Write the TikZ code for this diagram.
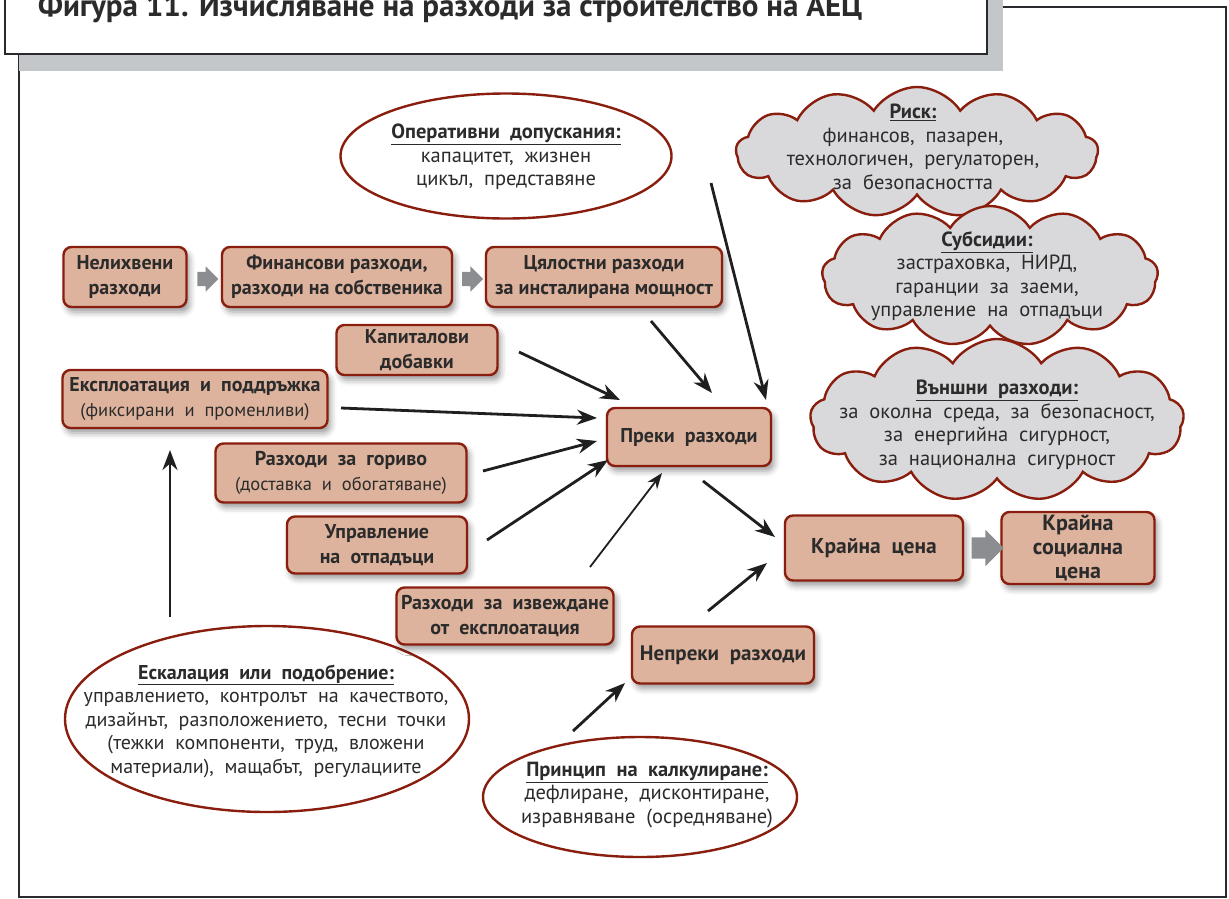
\documentclass[tikz,border=0pt]{standalone}
\usepackage{fontspec}
\setmainfont{PT Sans}
\usetikzlibrary{shapes.geometric,shapes.symbols,shapes.arrows,arrows.meta,shadows.blur,calc}
\definecolor{boxfill}{HTML}{DEB39D}
\definecolor{boxline}{HTML}{8A1E0E}
\definecolor{cloudfill}{HTML}{D9D9DB}
\definecolor{garrow}{HTML}{8C8D90}
\definecolor{txt}{HTML}{2B2B2B}
\definecolor{shadowgray}{HTML}{C3C7CA}
\definecolor{frameline}{HTML}{2A2A2E}
\newcommand{\sub}[1]{{\fontsize{18.5}{25}\selectfont\mdseries #1}}
\tikzset{
  box/.style={draw=boxline, line width=2.4pt, fill=boxfill, rounded corners=8pt, align=center,
    font=\fontsize{20}{25}\selectfont\bfseries, text=txt, inner sep=0pt,
    blur shadow={shadow xshift=3pt, shadow yshift=-5pt, shadow blur radius=6pt}},
  ell/.style={draw=boxline, line width=2.4pt, fill=white, ellipse, inner sep=0pt},
  cl/.style={draw=boxline, line width=2.4pt, fill=cloudfill, cloud, cloud puffs=13, cloud puff arc=115,
    cloud ignores aspect, inner sep=0pt},
  body/.style={align=center, font=\fontsize{20.5}{23.5}\selectfont, text=txt, inner sep=0pt},
  arr/.style={line width=2.8pt, draw=black!88, -{Stealth[length=20pt,width=15pt]}},
  thinarr/.style={line width=1.8pt, draw=black!88, -{Stealth[length=16pt,width=12pt]}},
  blk/.style={single arrow, fill=garrow, draw=none, inner xsep=0pt, single arrow head indent=0pt}
}
\begin{document}
\begin{tikzpicture}[x=1pt,y=-1pt]
\useasboundingbox (0,0) rectangle (1229,898);
\clip (0,0) rectangle (1229,898);
% frame and title
\draw[frameline, line width=2.5pt] (19,7) rectangle (1226,897);
\fill[shadowgray] (19,0) rectangle (1003,71);
\draw[frameline, line width=2pt, fill=white] (5,-10) rectangle (987,54);
\node[anchor=base west, font=\fontsize{31}{31}\selectfont\bfseries, text=txt, inner sep=0pt] (title) at (38,16)
  {Фигура 11. Изчисляване на разходи за строителство на АЕЦ};

% clouds
\node[cl, minimum width=362, minimum height=130] (riskc) at (917,152) {};
\node[body] (risk) at (913,147) {\textbf{\underline{Риск:}}\\финансов, \ пазарен,\\технологичен, \ регулаторен,\\за \ безопасността};
\node[cl, minimum width=336, minimum height=140] (subc) at (990,276) {};
\node[body] (sub) at (987,276) {\textbf{\underline{Субсидии:}}\\застраховка, \ НИРД,\\гаранции \ за \ заеми,\\управление \ на \ отпадъци};
\node[cl, minimum width=374, minimum height=162] (vanc) at (997,420) {};
\node[body] (van) at (997,425) {\textbf{\underline{Външни \ разходи:}}\\за \ околна \ среда, \ за \ безопасност,\\за \ енергийна \ сигурност,\\за \ национална \ сигурност};

% ellipses
\node[ell, minimum width=331, minimum height=125] (opse) at (506,156) {};
\node[body] (ops) at (506,157) {\textbf{\underline{Оперативни \ допускания:}}\\капацитет, \ жизнен\\цикъл, \ представяне};
\node[ell, minimum width=404, minimum height=186] (eske) at (267,719) {};
\node[body, font=\fontsize{20}{23.5}\selectfont] (esk) at (266,721) {\textbf{\underline{Ескалация \ или \ подобрение:}}\\управлението, \ контролът \ на \ качеството,\\дизайнът, \ разположението, \ тесни \ точки\\(тежки \ компоненти, \ труд, \ вложени\\материали), \ мащабът, \ регулациите};
\node[ell, minimum width=314, minimum height=120] (prine) at (640,797) {};
\node[body] (prin) at (647,795) {\textbf{\underline{Принцип \ на \ калкулиране:}}\\дефлиране, \ дисконтиране,\\изравняване \ (осредняване)};

% boxes
\node[box, minimum width=123, minimum height=60] (nel) at (125,277) {Нелихвени\\разходи};
\node[box, minimum width=230, minimum height=60] (fin) at (337,277) {Финансови разходи,\\разходи на собственика};
\node[box, minimum width=236, minimum height=60] (cel) at (604,277) {Цялостни разходи\\за инсталирана мощност};
\node[box, minimum width=161, minimum height=50] (kap) at (417,350) {Капиталови\\добавки};
\node[box, minimum width=265, minimum height=58] (exp) at (195,399) {Експлоатация \ и \ поддръжка\\\sub{(фиксирани \ и \ променливи)}};
\node[box, minimum width=164, minimum height=58] (preki) at (689,437) {Преки \ разходи};
\node[box, minimum width=251, minimum height=59] (gor) at (341,473) {Разходи \ за \ гориво\\\sub{(доставка \ и \ обогатяване)}};
\node[box, minimum width=180, minimum height=57] (upr) at (377,545) {Управление\\на \ отпадъци};
\node[box, minimum width=217, minimum height=57] (izv) at (505,616) {Разходи \ за \ извеждане\\от \ експлоатация};
\node[box, minimum width=182, minimum height=57, font=\fontsize{21}{25}\selectfont\bfseries] (nep) at (723,655) {Непреки \ разходи};
\node[box, minimum width=178, minimum height=65, font=\fontsize{21.5}{25}\selectfont\bfseries] (kc) at (874,548) {Крайна \ цена};
\node[box, minimum width=153, minimum height=72, font=\fontsize{22}{24}\selectfont\bfseries] (ksc) at (1078,548) {Крайна\\социална\\цена};

% gray block arrows
\node[blk, minimum height=21, inner ysep=7pt, single arrow head extend=5.5pt] (b1) at ($(nel.east)!0.5!(fin.west)+(0,2)$) {};
\node[blk, minimum height=21, inner ysep=7pt, single arrow head extend=5.5pt] (b2) at ($(fin.east)!0.5!(cel.west)+(0,2)$) {};
\node[blk, minimum height=32, inner ysep=10.5pt, single arrow head extend=7.5pt] (b3) at ($(kc.east)!0.5!(ksc.west)+(0,0)$) {};

% connectors
\draw[arr] ($(opse)+(205,27)$) -- ($(preki)+(77,-37)$);
\draw[arr] ($(cel)+(47,44)$) -- ($(preki)+(23,-44)$);
\draw[arr] ($(kap)+(102,2)$) -- ($(preki)+(-69,-37)$);
\draw[arr] ($(exp)+(146,9)$) -- ($(preki)+(-92,-19)$);
\draw[arr] ($(gor)+(142,-2)$) -- ($(preki)+(-92,4)$);
\draw[arr] ($(upr)+(110,-5)$) -- ($(preki)+(-81,23)$);
\draw[thinarr] ($(izv)+(85,-49)$) -- ($(preki)+(-27,36)$);
\draw[arr] ($(preki)+(14,44)$) -- ($(kc)+(-99,-11)$);
\draw[arr] ($(nep)+(-15,-44)$) -- ($(kc)+(-107,15)$);
\draw[arr] ($(prine)+(-67,-66)$) -- ($(nep)+(-98,28)$);
\draw[arr] ($(eske)+(-97,-102)$) -- ($(exp)+(-25,51)$);
\end{tikzpicture}
\end{document}
